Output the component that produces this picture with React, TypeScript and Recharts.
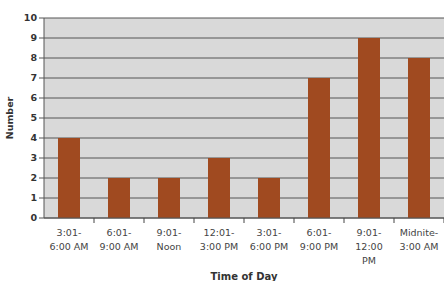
import { BarChart, Bar, XAxis, YAxis, CartesianGrid, Label } from 'recharts';

const categories = [
  '3:01-|6:00 AM',
  '6:01-|9:00 AM',
  '9:01-|Noon',
  '12:01-|3:00 PM',
  '3:01-|6:00 PM',
  '6:01-|9:00 PM',
  '9:01-|12:00|PM',
  'Midnite-|3:00 AM',
];
const counts = [4, 2, 2, 3, 2, 7, 9, 8];
const yTicks = [0, 1, 2, 3, 4, 5, 6, 7, 8, 9, 10];

const chartData = categories.map((name, i) => ({ name, count: counts[i] }));

const FONT = '"DejaVu Sans", Verdana, sans-serif';

function TimeTick(props: any) {
  const { x, y, payload } = props;
  const half = payload && payload.offset ? payload.offset : 25;
  const lines = String(payload.value).split('|');
  return (
    <g>
      <line x1={x + half} y1={y - 8} x2={x + half} y2={y - 3} stroke="#444" />
      <text x={x} y={y + 10} textAnchor="middle" fill="#444" fontSize={9.5} fontFamily={FONT}>
        {lines.map((l, i) => (
          <tspan key={i} x={x} dy={i === 0 ? 0 : 14}>
            {l}
          </tspan>
        ))}
      </text>
    </g>
  );
}

export default function App() {
  return (
    <div style={{ position: 'fixed', left: 0, top: 0, width: 444, height: 281, background: '#fff' }}>
      <BarChart
        width={444}
        height={281}
        data={chartData}
        margin={{ top: 18, right: 0, bottom: 0, left: 0 }}
        barCategoryGap={14}
      >
        <CartesianGrid vertical={false} stroke="#555" strokeWidth={1} fill="#d9d9d9" fillOpacity={1} />
        <XAxis
          dataKey="name"
          interval={0}
          height={63}
          axisLine={{ stroke: '#555' }}
          tickLine={false}
          tick={<TimeTick />}
        >
          <Label
            value="Time of Day"
            position="insideBottom"
            offset={1}
            fill="#333"
            fontSize={10}
            fontWeight="bold"
            fontFamily={FONT}
          />
        </XAxis>
        <YAxis
          domain={[0, 10]}
          ticks={yTicks}
          interval={0}
          width={44}
          axisLine={{ stroke: '#555' }}
          tickLine={{ stroke: '#555' }}
          tickSize={5}
          tick={{ fill: '#333', fontSize: 9.5, fontWeight: 'bold', fontFamily: FONT }}
        >
          <Label
            value="Number"
            angle={-90}
            position="insideLeft"
            offset={10}
            fill="#333"
            fontSize={9.5}
            fontWeight="bold"
            fontFamily={FONT}
            style={{ textAnchor: 'middle' }}
          />
        </YAxis>
        <Bar dataKey="count" fill="#a04a20" isAnimationActive={false} />
      </BarChart>
    </div>
  );
}
